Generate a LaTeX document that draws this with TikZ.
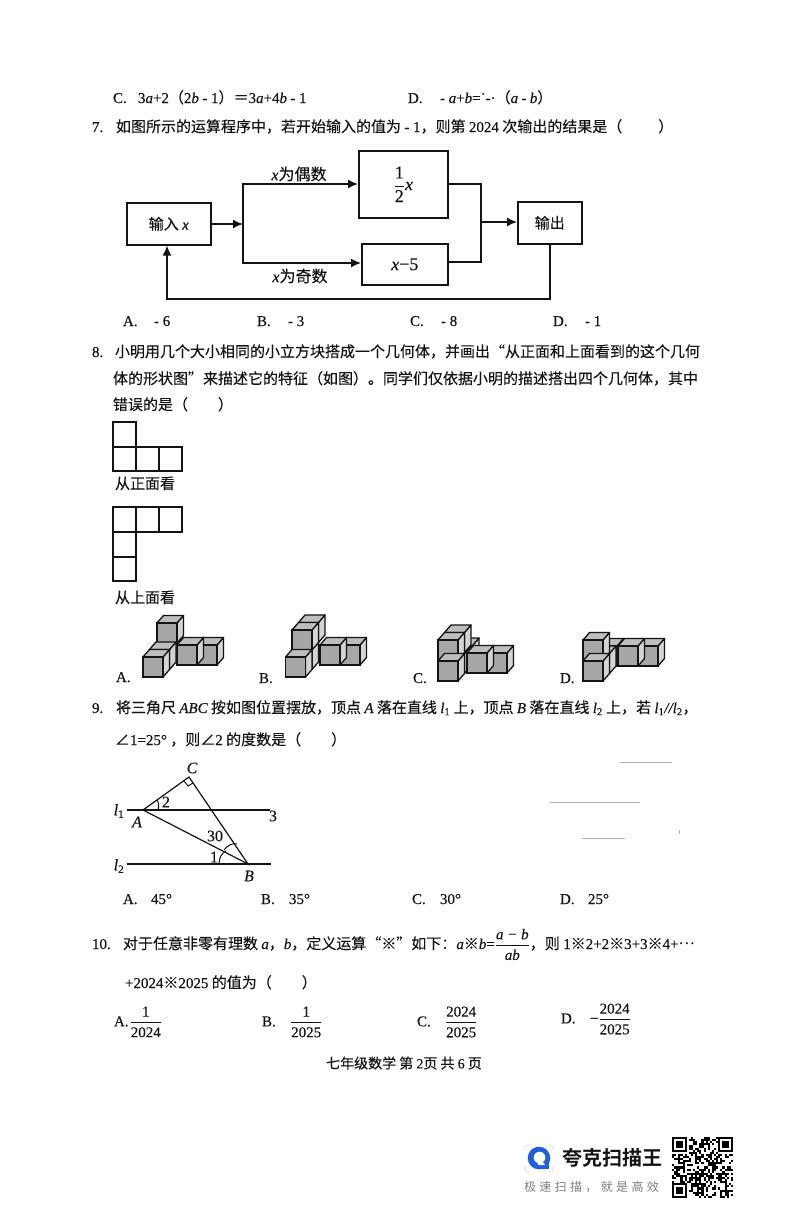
\documentclass[tikz,border=0pt]{standalone}
\usepackage{amsmath}
\usepackage{fontspec}
\setmainfont{Liberation Serif}[FakeBold=0.25]
\newfontfamily\cjk{Noto Sans CJK SC}[FakeBold=0.2]
\newfontfamily\cjkplain{Noto Sans CJK SC}
\newfontfamily\cjkbold{Noto Sans CJK SC Bold}
\usetikzlibrary{arrows.meta}
\definecolor{ink}{HTML}{141414}
\definecolor{cubeface}{HTML}{A6A6A6}
\definecolor{cubeside}{HTML}{D4D4D4}
\definecolor{cubetop}{HTML}{BEBEBE}
\definecolor{quark}{HTML}{1F5FE0}
\newcommand{\la}[1]{{\rmfamily #1}}
\newcommand{\im}[1]{{\rmfamily\itshape #1}}
\newcommand{\Num}[2]{\makebox[#1][l]{\la{#2}}}
\newcommand{\Fr}[2]{\ensuremath{\dfrac{\hbox{\rmfamily\rule[-2.5pt]{0pt}{2.5pt}#1}}{\hbox{\rmfamily\rule{0pt}{12.5pt}#2}}}}
\tikzset{
  x=1pt,y=-1pt,
  txt/.style={anchor=base west,inner sep=0pt,outer sep=0pt,text=ink,font=\fontsize{15}{16}\selectfont\cjk},
  ctr/.style={anchor=center,inner sep=0pt,outer sep=0pt,text=ink,font=\fontsize{15}{16}\selectfont\cjk},
  flowbox/.style={draw=ink,line width=1.6pt,inner sep=0pt,anchor=north west,text=ink,font=\fontsize{15}{16}\selectfont\cjk},
  bigflow/.style={flowbox,font=\fontsize{18}{19}\selectfont\cjk},
  flowlab/.style={ctr,font=\fontsize{16}{17}\selectfont\cjk},
  flow/.style={draw=ink,line width=1.5pt},
  flowarr/.style={flow,-{Latex[length=10pt,width=9pt]}},
  grid cell/.style={draw=ink,line width=1.1pt},
  geom/.style={draw=ink,line width=1.2pt},
  noise/.style={draw=gray!60,line width=.7pt},
  figlab/.style={anchor=center,inner sep=0pt,text=ink,font=\fontsize{16}{17}\selectfont},
}
% \cubeat{x}{y}: lower-left corner of the front face
\newcommand{\cubeat}[2]{%
  \fill[cubeside,draw=ink,line width=1.3pt,line join=round] (#1+20,#2)--(#1+26.5,#2-7.5)--(#1+26.5,#2-27.5)--(#1+20,#2-20)--cycle;
  \fill[cubetop,draw=ink,line width=1.3pt,line join=round] (#1,#2-20)--(#1+6.5,#2-27.5)--(#1+26.5,#2-27.5)--(#1+20,#2-20)--cycle;
  \fill[cubeface,draw=ink,line width=1.5pt] (#1,#2) rectangle (#1+20,#2-20);
}
\begin{document}
\begin{tikzpicture}
\useasboundingbox (0,0) rectangle (794,1211);
\fill[white] (0,0) rectangle (794,1211);
% top line
\node[txt] (c6) at (113,103) {\Num{25pt}{C.}\la{3}\im{a}\la{+2}（\la{2}\im{b} \la{- 1}）＝\la{3}\im{a}\la{+4}\im{b} \la{- 1}};
\node[txt] (d6) at (408,103) {\Num{32pt}{D.}\la{- }\im{a}\la{+}\im{b}\la{=˙-·}（\im{a} \la{-} \im{b}）};
\node[txt] (q7) at (92,132) {\Num{24pt}{7.}如图所示的运算程序中，若开始输入的值为 \la{- 1}，则第 \la{2024} 次输出的结果是（\hspace{2.4em}）};
% flow chart
\node[flowbox,minimum width=84pt,minimum height=42pt] (input) at (126,202) {输入 \im{x}};
\node[bigflow,minimum width=89pt,minimum height=67pt] (half) at (358,150) {\Fr{1}{2}\im{x}};
\node[bigflow,minimum width=86pt,minimum height=41pt] (minus) at (361,243) {\im{x}\la{−5}};
\node[flowbox,minimum width=64pt,minimum height=42pt] (out) at (517,201) {输出};
\coordinate (jl) at (243,224);
\coordinate (jlt) at (243,184);
\coordinate (jlb) at (243,263);
\coordinate (jr) at (481,222);
\coordinate (jrt) at (481,184);
\coordinate (jrb) at (481,262);
\coordinate (fb1) at (550,299);
\coordinate (fb2) at (167,299);
\draw[flowarr] (input.east |- jl) -- (jl);
\draw[flowarr] (jl) -- (jlt) -- (half.west |- jlt);
\draw[flowarr] (jl) -- (jlb) -- (minus.west |- jlb);
\draw[flow] (half.east |- jrt) -- (jrt) -- (jrb) -- (minus.east |- jrb);
\draw[flowarr] (jr) -- (out.west |- jr);
\draw[flowarr] (out.south -| fb1) -- (fb1) -- (fb2) -- (input.south -| fb2);
\node[flowlab] (even) at (299,174) {\im{x}为偶数};
\node[flowlab] (odd) at (300,276) {\im{x}为奇数};
\node[txt] (a7) at (123,326) {\Num{31pt}{A.}\la{- 6}};
\node[txt] (b7) at (257,326) {\Num{31pt}{B.}\la{- 3}};
\node[txt] (c7) at (410,326) {\Num{31pt}{C.}\la{- 8}};
\node[txt] (d7) at (553,326) {\Num{32pt}{D.}\la{- 1}};
% question 8
\node[txt] (q8a) at (92,357) {\Num{23pt}{8.}小明用几个大小相同的小立方块搭成一个几何体，并画出“从正面和上面看到的这个几何};
\node[txt] (q8b) at (113,384) {体的形状图”来描述它的特征（如图）。同学们仅依据小明的描述搭出四个几何体，其中};
\node[txt] (q8c) at (113,410) {错误的是（\hspace{2em}）};
\draw[grid cell] (113,422) rectangle (136,447);
\draw[grid cell] (113,447) rectangle (136,471);
\draw[grid cell] (136,447) rectangle (159,471);
\draw[grid cell] (159,447) rectangle (182,471);
\node[txt] (front) at (115,489) {从正面看};
\draw[grid cell] (113,507) rectangle (136,532);
\draw[grid cell] (136,507) rectangle (159,532);
\draw[grid cell] (159,507) rectangle (182,532);
\draw[grid cell] (113,532) rectangle (136,557);
\draw[grid cell] (113,557) rectangle (136,581);
\node[txt] (above) at (115,603) {从上面看};
% cubes A
\cubeat{157}{643}\cubeat{197}{665}\cubeat{177}{665}\cubeat{149.5}{669.5}\cubeat{143}{677}
\node[txt] (a8) at (116,682) {\la{A.}};
% cubes B
\cubeat{298.5}{642.5}\cubeat{340}{665}\cubeat{320}{665}\cubeat{292}{669.5}\cubeat{292}{650}\cubeat{285.5}{677}
\node[txt] (b8) at (259,683) {\la{B.}};
% cubes C
\cubeat{452.5}{665.5}\cubeat{444.5}{673.5}\cubeat{444.5}{652.5}\cubeat{487}{673}\cubeat{467}{673}\cubeat{438}{660}\cubeat{438}{681}
\node[txt] (c8) at (413,683) {\la{C.}};
% cubes D
\cubeat{597}{666}\cubeat{638}{666}\cubeat{618}{666}\cubeat{589.5}{673.5}\cubeat{583}{660}\cubeat{583}{681}
\node[txt] (d8) at (560,683) {\la{D.}};
% question 9
\node[txt] (q9a) at (92,713) {\Num{24pt}{9.}将三角尺 \im{ABC} 按如图位置摆放，顶点 \im{A} 落在直线 \im{l}\la{\textsubscript{1}} 上，顶点 \im{B} 落在直线 \im{l}\la{\textsubscript{2}} 上，若 \im{l}\la{\textsubscript{1}}\im{//}\im{l}\la{\textsubscript{2}}，};
\node[txt] (q9b) at (115,745) {∠\la{1=25°} ，则∠\la{2} 的度数是（\hspace{2em}）};
\coordinate (A) at (143,810);
\coordinate (C) at (189,777);
\coordinate (B) at (248,864);
\coordinate (l1a) at (127,810);
\coordinate (l1b) at (270,810);
\coordinate (l2a) at (127,864);
\coordinate (l2b) at (271,864);
\draw[geom] (A)--(C)--(B)--cycle;
\draw[geom] (l1a)--(l1b);
\draw[geom] (l2a)--(l2b);
\draw[geom,line width=1pt] (184,781)--(188,786)--(193,783);
\draw[geom,line width=1pt] (157,800) .. controls (159,803) and (159,807) .. (158,810);
\draw[geom,line width=1pt] (219,864) .. controls (219,857) and (222,853) .. (226,851);
\draw[geom,line width=1pt] (224,850) .. controls (228,845) and (232,843) .. (237,844);
\node[figlab] (lc) at (192,768) {\im{C}};
\node[figlab] (la) at (137,822) {\im{A}};
\node[figlab] (lb) at (249,876) {\im{B}};
\node[figlab] (l1) at (119,811) {\im{l}\textsubscript{1}};
\node[figlab] (l2) at (119,866) {\im{l}\textsubscript{2}};
\node[figlab] (n2) at (166,802) {2};
\node[figlab] (n3) at (273,816) {3};
\node[figlab] (n30) at (215,836) {30};
\node[figlab] (n1) at (214,857) {1};
\node[txt] (a9) at (123,904) {\Num{28pt}{A.}\la{45°}};
\node[txt] (b9) at (261,904) {\Num{28pt}{B.}\la{35°}};
\node[txt] (c9) at (412,904) {\Num{28pt}{C.}\la{30°}};
\node[txt] (d9) at (560,904) {\Num{28pt}{D.}\la{25°}};
% scan noise
\draw[noise] (620,762)--(672,762);
\draw[noise] (550,802)--(640,802);
\draw[noise] (582,838)--(625,838);
\draw[noise] (679,830)--(679,834);
% question 10
\node[txt] (q10a) at (92,949) {\Num{31pt}{10.}对于任意非零有理数 \im{a}，\im{b}，定义运算“※”如下：\im{a}※\im{b}\la{=}\Fr{\itshape a − b}{\itshape ab}，则 \la{1}※\la{2+2}※\la{3+3}※\la{4+}\raisebox{.33em}{⋯}};
\node[txt] (q10b) at (125,988) {\la{+2024}※\la{2025} 的值为（\hspace{2em}）};
\node[ctr,anchor=west] (a10) at (114,1022) {\la{A.}\hspace{1pt}\Fr{1}{2024}};
\node[ctr,anchor=west] (b10) at (262,1022) {\Num{28pt}{B.}\Fr{1}{2025}};
\node[ctr,anchor=west] (c10) at (417,1022) {\Num{28pt}{C.}\Fr{2024}{2025}};
\node[ctr,anchor=west] (d10) at (561,1019) {\Num{29pt}{D.}\la{−}\Fr{2024}{2025}};
\node[ctr,font=\fontsize{14}{15}\selectfont\cjk] (foot) at (404,1063) {七年级数学\ 第 \la{2}页\ 共 \la{6} 页};
% logo
\draw[gray!18,line width=1.2pt,line cap=round] (525,1149)--(525,1146)--(529,1145);
\draw[gray!18,line width=1.2pt,line cap=round] (549,1145)--(553,1146)--(553,1149);
\draw[gray!18,line width=1.2pt,line cap=round] (525,1167)--(525,1171)--(529,1172);
\draw[gray!18,line width=1.2pt,line cap=round] (549,1172)--(553,1171)--(553,1167);
\fill[quark] (539,1158) circle (11.3pt);
\fill[quark] (539,1158) rectangle (549,1169);
\fill[white] (539.5,1157.5) circle (5.8pt);
\fill[white] (537,1160) -- (544,1163) -- (545,1165) -- (538,1165) -- cycle;
\node[ctr,anchor=west,font=\fontsize{20}{22}\selectfont\cjkbold] (brand) at (562,1158) {夸克扫描王};
\node[ctr,anchor=west,text=gray,font=\fontsize{12}{14}\selectfont\cjkplain\addfontfeatures{LetterSpace=28}] (slogan) at (524,1187) {极速扫描，就是高效};
% QR
\fill[white] (670,1135) rectangle (735,1199);
\pgfmathsetseed{2024}
\foreach \i in {0,...,28}{\foreach \j in {0,...,28}{
  \pgfmathparse{rnd<0.5?1:0}
  \ifnum\pgfmathresult=1 \fill[black] ({672+\i*2.1},{1137+\j*2.1}) rectangle ++(2.1,2.1);\fi
}}
\foreach \px/\py in {672/1137,718.2/1137,672/1183.2}{
  \fill[white] (\px-.5,\py-.5) rectangle ++(17.5,17.5);
  \fill[black] (\px,\py) rectangle ++(14.7,14.7);
  \fill[white] (\px+2.1,\py+2.1) rectangle ++(10.5,10.5);
  \fill[black] (\px+4.2,\py+4.2) rectangle ++(6.3,6.3);
}
\end{tikzpicture}
\end{document}
